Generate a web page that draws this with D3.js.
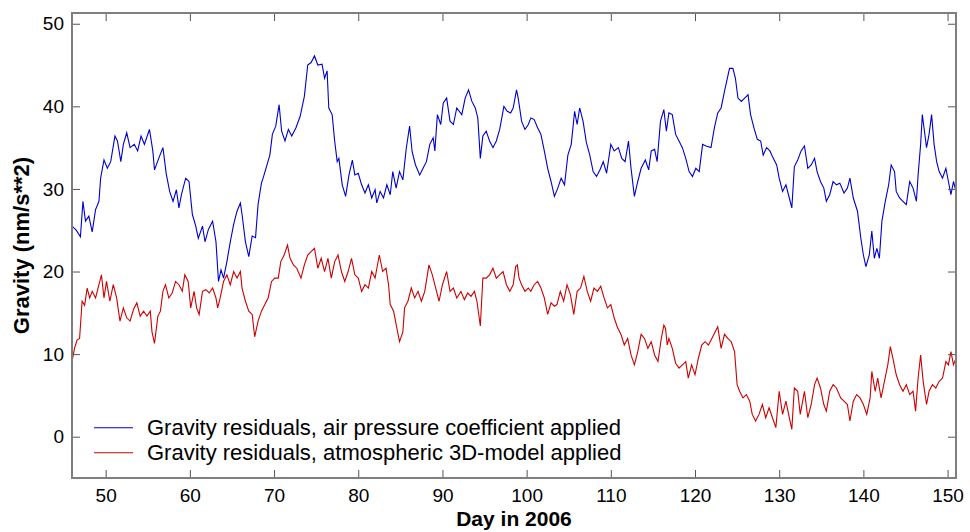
<!DOCTYPE html>
<html>
<head>
<meta charset="utf-8">
<script src="https://cdn.jsdelivr.net/npm/d3@7"></script>
<style>
  body { margin: 0; background: #fff; }
  svg { display: block; font-family: "Liberation Sans", Arial, sans-serif; }
</style>
</head>
<body>
<div id="chart-area"></div>
<script>
// values
const xTicks = [50, 60, 70, 80, 90, 100, 110, 120, 130, 140, 150];
const yTicks = [0, 10, 20, 30, 40, 50];

const blueDays = [46.0, 46.5, 47.0, 47.3, 47.6, 48.0, 48.4, 48.8, 49.2, 49.4, 49.8, 50.2, 50.6, 51.1, 51.4, 51.8, 52.1, 52.5, 52.9, 53.4,
  53.8, 54.2, 54.6, 55.2, 55.6, 55.8, 56.3, 56.8, 57.2, 57.6, 58.0, 58.4, 58.7, 59.0, 59.5, 59.9, 60.3, 60.7, 61.0, 61.5,
  61.8, 62.2, 62.7, 63.1, 63.4, 63.7, 64.0, 64.4, 64.8, 65.2, 65.6, 66.0, 66.2, 66.6, 67.0, 67.4, 67.8, 68.1, 68.5, 68.7,
  69.1, 69.5, 69.8, 70.2, 70.6, 70.9, 71.3, 71.7, 72.1, 72.6, 73.1, 73.6, 74.0, 74.4, 74.8, 75.2, 75.7, 76.0, 76.3, 76.5,
  76.9, 77.2, 77.5, 77.7, 78.1, 78.5, 78.9, 79.3, 79.6, 80.0, 80.4, 80.8, 81.2, 81.6, 82.0, 82.2, 82.6, 83.0, 83.4, 83.8,
  84.1, 84.5, 84.9, 85.3, 85.7, 86.1, 86.4, 86.8, 87.3, 87.7, 88.1, 88.5, 88.9, 89.1, 89.4, 89.8, 90.1, 90.5, 90.9, 91.3,
  91.7, 92.3, 92.7, 93.1, 93.5, 93.9, 94.2, 94.5, 94.8, 95.2, 95.6, 96.0, 96.4, 96.8, 97.3, 97.7, 98.1, 98.4, 98.8, 99.0,
  99.4, 99.8, 100.2, 100.5, 100.9, 101.3, 101.7, 102.1, 102.5, 102.9, 103.3, 103.7, 104.1, 104.5, 104.9, 105.3, 105.7, 106.0, 106.3, 106.7,
  107.1, 107.5, 107.9, 108.3, 108.7, 109.1, 109.5, 110.0, 110.4, 110.9, 111.3, 111.7, 112.1, 112.4, 112.8, 113.2, 113.6, 114.1, 114.5, 114.8,
  115.2, 115.5, 115.9, 116.3, 116.6, 116.9, 117.3, 117.7, 118.1, 118.5, 118.9, 119.3, 119.7, 120.1, 120.5, 120.9, 121.3, 121.9, 122.3, 122.7,
  123.1, 123.5, 123.8, 124.1, 124.5, 124.8, 125.1, 125.5, 125.9, 126.3, 126.6, 127.0, 127.4, 127.8, 128.1, 128.5, 128.9, 129.3, 129.7, 130.0,
  130.4, 130.8, 131.2, 131.5, 131.8, 132.2, 132.6, 133.0, 133.4, 133.8, 134.2, 134.5, 134.9, 135.3, 135.6, 136.0, 136.4, 136.8, 137.2, 137.7,
  138.1, 138.4, 138.8, 139.3, 139.7, 140.0, 140.3, 140.7, 141.0, 141.3, 141.6, 141.9, 142.2, 142.6, 143.0, 143.3, 143.7, 143.9, 144.3, 144.7,
  145.1, 145.5, 145.9, 146.3, 146.5, 146.8, 147.0, 147.2, 147.5, 147.8, 148.1, 148.4, 148.7, 149.0, 149.4, 149.8, 150.1, 150.4, 150.7, 151.0];
const blueVals = [25.5, 25.0, 24.2, 28.5, 26.1, 26.7, 24.8, 27.5, 28.5, 31.3, 33.5, 32.5, 33.3, 36.4, 35.8, 33.3, 35.4, 36.8, 35.0, 35.4,
  34.6, 36.4, 35.4, 37.2, 34.6, 32.3, 33.7, 35.0, 31.8, 29.7, 28.5, 29.9, 27.7, 29.3, 31.3, 30.9, 26.9, 25.5, 24.0, 25.5,
  23.6, 25.1, 26.1, 23.6, 18.8, 20.2, 19.2, 21.2, 23.6, 25.7, 27.3, 28.3, 26.9, 23.6, 21.8, 24.3, 24.1, 28.1, 30.7, 31.3,
  32.7, 34.1, 36.6, 37.6, 40.2, 37.0, 35.8, 37.2, 36.4, 37.4, 38.8, 41.2, 45.0, 45.3, 46.1, 45.0, 45.1, 43.4, 44.3, 39.8,
  39.0, 35.8, 33.3, 33.7, 30.5, 29.1, 31.7, 33.5, 31.7, 31.9, 30.5, 29.5, 30.5, 28.9, 29.9, 28.3, 29.7, 28.9, 30.5, 29.3,
  32.1, 30.1, 32.1, 31.1, 34.9, 37.6, 34.5, 32.9, 31.7, 32.5, 33.3, 35.4, 36.2, 34.6, 39.0, 37.8, 40.4, 41.0, 38.2, 37.8,
  39.8, 39.0, 41.0, 42.0, 40.6, 39.8, 38.6, 33.7, 36.4, 37.0, 35.8, 35.0, 35.8, 37.2, 40.0, 39.4, 39.2, 39.8, 42.0, 41.0,
  38.2, 37.2, 37.8, 38.6, 38.4, 37.4, 36.6, 34.6, 32.5, 30.9, 29.1, 30.1, 31.3, 30.5, 34.1, 35.4, 39.4, 37.8, 39.8, 38.2,
  35.6, 34.1, 32.1, 31.5, 32.3, 33.3, 31.9, 35.4, 34.6, 35.0, 33.7, 33.3, 35.8, 32.5, 29.1, 30.9, 32.5, 33.5, 32.3, 34.6,
  34.8, 33.3, 38.2, 39.6, 37.0, 39.2, 39.0, 36.6, 35.8, 35.0, 33.7, 32.1, 31.5, 32.5, 32.1, 35.4, 35.2, 35.0, 37.4, 39.2,
  39.8, 41.8, 43.2, 44.6, 44.6, 43.4, 41.0, 40.6, 41.0, 41.4, 39.0, 37.4, 36.0, 35.8, 34.1, 35.0, 34.6, 33.7, 32.9, 31.3,
  29.7, 30.5, 28.9, 27.7, 32.7, 33.5, 34.6, 35.2, 32.5, 32.9, 33.7, 32.1, 30.9, 30.1, 28.5, 29.3, 30.9, 30.5, 30.7, 29.5,
  30.1, 31.3, 28.9, 27.3, 24.0, 22.0, 20.6, 22.0, 24.9, 21.6, 22.8, 21.6, 26.1, 28.5, 30.5, 32.9, 32.1, 29.7, 28.9, 28.5,
  28.1, 30.9, 30.1, 28.5, 31.7, 35.4, 39.0, 37.4, 35.0, 36.6, 39.0, 35.4, 33.3, 32.1, 31.3, 32.5, 30.9, 29.3, 30.9, 29.7];

const redDays = [46.0, 46.3, 46.6, 46.9, 47.2, 47.5, 47.8, 48.1, 48.4, 48.8, 49.2, 49.5, 49.8, 50.1, 50.5, 50.9, 51.3, 51.7, 52.1, 52.5,
  52.9, 53.3, 53.7, 54.1, 54.5, 54.9, 55.3, 55.5, 55.8, 56.2, 56.5, 56.8, 57.1, 57.5, 57.9, 58.3, 58.7, 59.1, 59.4, 59.8,
  60.1, 60.5, 60.8, 61.1, 61.5, 61.9, 62.3, 62.7, 63.1, 63.3, 63.6, 64.0, 64.4, 64.8, 65.2, 65.6, 66.0, 66.2, 66.6, 67.0,
  67.4, 67.7, 68.1, 68.5, 68.9, 69.3, 69.7, 70.1, 70.5, 70.8, 71.2, 71.6, 71.9, 72.3, 72.7, 73.2, 73.6, 74.0, 74.4, 74.8,
  75.2, 75.6, 76.0, 76.4, 76.8, 77.2, 77.6, 78.0, 78.4, 78.8, 79.2, 79.6, 80.0, 80.4, 80.8, 81.2, 81.6, 82.0, 82.5, 82.9,
  83.3, 83.6, 83.8, 84.2, 84.5, 84.9, 85.3, 85.5, 85.9, 86.3, 86.7, 87.1, 87.5, 87.9, 88.4, 88.8, 89.2, 89.6, 90.0, 90.5,
  90.9, 91.3, 91.7, 92.2, 92.6, 93.0, 93.4, 93.8, 94.1, 94.5, 94.8, 95.2, 95.6, 96.0, 96.4, 96.8, 97.2, 97.6, 98.0, 98.4,
  98.7, 98.9, 99.1, 99.4, 99.8, 100.2, 100.5, 100.9, 101.3, 101.7, 102.1, 102.5, 102.9, 103.3, 103.6, 104.0, 104.4, 104.8, 105.2, 105.6,
  106.0, 106.4, 106.8, 107.2, 107.6, 108.0, 108.4, 108.8, 109.2, 109.6, 110.0, 110.4, 110.8, 111.2, 111.6, 112.0, 112.4, 112.8, 113.2, 113.6,
  114.0, 114.4, 114.8, 115.2, 115.6, 116.0, 116.3, 116.5, 116.7, 116.9, 117.3, 117.7, 118.1, 118.5, 118.9, 119.2, 119.6, 120.0, 120.4, 120.8,
  121.2, 121.6, 122.0, 122.4, 122.7, 123.1, 123.5, 123.9, 124.3, 124.7, 125.0, 125.3, 125.7, 126.1, 126.5, 126.8, 127.2, 127.6, 128.0, 128.4,
  128.8, 129.2, 129.6, 130.0, 130.4, 130.8, 131.2, 131.5, 131.8, 132.2, 132.5, 133.0, 133.4, 133.8, 134.2, 134.5, 134.9, 135.3, 135.6, 136.0,
  136.4, 136.8, 137.3, 137.7, 138.1, 138.4, 138.8, 139.2, 139.6, 140.0, 140.4, 140.8, 141.0, 141.4, 141.7, 142.1, 142.5, 142.9, 143.2, 143.5,
  143.9, 144.3, 144.7, 145.1, 145.5, 145.9, 146.2, 146.5, 146.8, 147.1, 147.5, 147.8, 148.2, 148.6, 149.0, 149.4, 149.8, 150.1, 150.4, 150.7, 151.0];
const redVals = [9.1, 10.7, 11.7, 11.9, 16.4, 15.9, 18.0, 16.8, 17.6, 16.8, 18.4, 19.6, 16.8, 18.8, 16.4, 18.4, 16.8, 14.0, 15.6, 14.4,
  14.0, 15.4, 16.2, 14.6, 15.2, 14.6, 15.2, 12.7, 11.3, 14.6, 15.2, 17.6, 18.4, 16.8, 17.4, 18.8, 18.4, 17.6, 19.6, 18.8,
  15.6, 17.6, 15.6, 14.8, 17.6, 17.8, 17.4, 18.0, 16.8, 15.6, 16.8, 18.8, 19.6, 18.4, 20.0, 19.2, 20.0, 18.0, 16.4, 15.2,
  14.8, 12.1, 14.0, 15.2, 16.0, 16.8, 18.8, 19.2, 19.2, 21.2, 22.0, 23.2, 21.6, 20.8, 20.4, 19.2, 20.8, 22.0, 22.4, 22.8,
  20.4, 21.6, 20.0, 21.6, 19.2, 21.2, 22.0, 20.0, 18.8, 20.0, 21.6, 19.6, 19.2, 17.6, 18.4, 18.0, 20.0, 19.2, 22.0, 20.0,
  20.4, 18.4, 16.0, 15.2, 13.6, 11.5, 12.7, 15.6, 16.4, 18.0, 16.8, 17.6, 16.4, 17.6, 20.8, 19.6, 18.0, 16.4, 18.4, 20.0,
  17.6, 18.0, 16.8, 17.6, 16.6, 17.4, 17.0, 17.6, 16.4, 13.4, 19.2, 19.2, 19.6, 20.4, 19.2, 19.6, 20.0, 18.4, 17.6, 18.4,
  20.6, 20.8, 19.2, 18.4, 17.6, 18.0, 17.6, 18.4, 18.8, 18.0, 16.8, 14.8, 16.2, 15.8, 16.0, 17.6, 16.4, 18.4, 17.2, 14.8,
  17.6, 18.0, 19.4, 17.6, 16.4, 18.0, 17.6, 18.2, 16.8, 15.6, 16.0, 14.4, 13.2, 12.4, 11.1, 11.9, 9.9, 8.7, 10.3, 12.4,
  11.9, 10.7, 11.5, 9.9, 9.1, 11.9, 13.5, 13.1, 11.1, 11.9, 10.7, 8.9, 8.3, 8.7, 9.1, 7.1, 8.7, 7.5, 9.5, 11.1,
  11.5, 11.1, 11.9, 12.7, 13.3, 10.7, 12.4, 11.9, 11.5, 10.3, 6.3, 5.5, 4.7, 5.1, 4.3, 2.7, 1.9, 2.7, 3.9, 2.3,
  3.5, 2.3, 1.1, 5.5, 2.7, 4.3, 2.3, 0.9, 5.9, 5.5, 2.7, 5.5, 2.3, 3.9, 6.3, 7.1, 5.9, 3.9, 3.1, 5.5,
  6.3, 5.9, 4.7, 4.3, 3.9, 1.9, 4.3, 5.1, 4.7, 3.9, 2.7, 4.7, 7.9, 5.5, 7.1, 4.7, 6.7, 8.7, 10.9, 9.5,
  7.5, 6.3, 5.5, 6.3, 5.1, 5.5, 3.1, 7.1, 9.9, 6.7, 3.9, 5.5, 6.3, 5.9, 6.7, 7.1, 9.1, 8.7, 10.3, 8.7, 9.5];

const legendLabels = [
  "Gravity residuals, air pressure coefficient applied",
  "Gravity residuals, atmospheric 3D-model applied"
];
const seriesColors = ["#0000cc", "#cc0000"];

// canvas
const margin = { top: 13, right: 14, bottom: 54, left: 72 };
const width = 970 - margin.left - margin.right;
const height = 532 - margin.top - margin.bottom;

const x = d3.scaleLinear().domain([46, 151]).range([0, width]);
const y = d3.scaleLinear().domain([-5, 51.3]).range([height, 0]);

const svg = d3.select("#chart-area")
  .append("svg")
    .attr("width", 970)
    .attr("height", 532);

const chart = svg.append("g")
  .attr("transform", "translate(" + margin.left + "," + margin.top + ")");

chart.append("defs").append("clipPath")
  .attr("id", "clip")
  .append("rect")
  .attr("width", width)
  .attr("height", height);

const line = d3.line()
  .x(d => x(d[0]))
  .y(d => y(d[1]));

const blue = blueDays.map((d, i) => [d, blueVals[i]]);
const red = redDays.map((d, i) => [d, redVals[i]]);

chart.append("path")
  .datum(blue)
  .attr("clip-path", "url(#clip)")
  .attr("fill", "none")
  .attr("stroke", seriesColors[0])
  .attr("stroke-width", 1.1)
  .attr("d", line);

chart.append("path")
  .datum(red)
  .attr("clip-path", "url(#clip)")
  .attr("fill", "none")
  .attr("stroke", seriesColors[1])
  .attr("stroke-width", 1.1)
  .attr("d", line);

// axes with inward ticks on all four sides
const styleAxis = g => {
  g.select(".domain").remove();
  g.selectAll(".tick line").attr("stroke", "#555");
  g.selectAll(".tick text")
    .attr("fill", "#000")
    .style("font-size", "19px");
};

chart.append("g")
  .attr("transform", "translate(0," + height + ")")
  .call(d3.axisBottom(x).tickValues(xTicks).tickSize(-8).tickPadding(11))
  .call(styleAxis);

chart.append("g")
  .call(d3.axisTop(x).tickValues(xTicks).tickSize(-8).tickFormat(""))
  .call(styleAxis);

chart.append("g")
  .call(d3.axisLeft(y).tickValues(yTicks).tickSize(-8).tickPadding(8))
  .call(styleAxis);

chart.append("g")
  .attr("transform", "translate(" + width + ",0)")
  .call(d3.axisRight(y).tickValues(yTicks).tickSize(-8).tickFormat(""))
  .call(styleAxis);

chart.append("rect")
  .attr("width", width)
  .attr("height", height)
  .attr("fill", "none")
  .attr("stroke", "#7f7f7f")
  .attr("stroke-width", 2);

// axis titles
svg.append("text")
  .attr("x", margin.left + width / 2)
  .attr("y", 526)
  .attr("text-anchor", "middle")
  .style("font-size", "21px")
  .style("font-weight", "bold")
  .text("Day in 2006");

svg.append("text")
  .attr("transform", "translate(29," + (margin.top + height / 2) + ") rotate(-90)")
  .attr("text-anchor", "middle")
  .style("font-size", "22px")
  .style("font-weight", "bold")
  .text("Gravity (nm/s**2)");

// legend
const legend = chart.append("g")
  .attr("transform", "translate(22," + (y(0) - 9) + ")");

legendLabels.forEach((label, i) => {
  const row = legend.append("g").attr("transform", "translate(0," + i * 25 + ")");
  row.append("line")
    .attr("x1", 0).attr("x2", 39)
    .attr("stroke", seriesColors[i])
    .attr("stroke-width", 1.1);
  row.append("text")
    .attr("x", 53)
    .attr("dy", "0.35em")
    .style("font-size", "22px")
    .text(label);
});
</script>
</body>
</html>
